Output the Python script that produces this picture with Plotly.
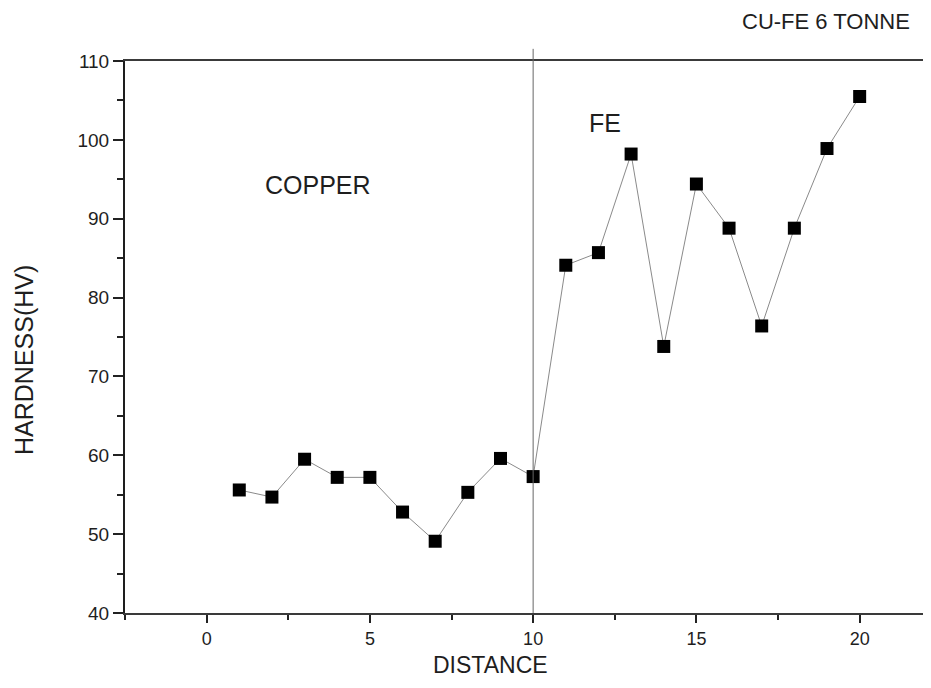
import plotly.graph_objects as go

distance = list(range(1, 21))
hardness = [55.6, 54.7, 59.5, 57.2, 57.2, 52.8, 49.1, 55.3, 59.6, 57.3,
            84.1, 85.7, 98.2, 73.8, 94.4, 88.8, 76.4, 88.8, 98.9, 105.5]

boundary_x = 10
labels = ["COPPER", "FE"]
label_x = [3.4, 12.2]
label_y = [94.3, 102.1]

title_text = "CU-FE 6 TONNE"
x_title = "DISTANCE"
y_title = "HARDNESS(HV)"

FONT = "Liberation Sans, Arial"
TXT = "#1e1e1e"

fig = go.Figure()
fig.add_trace(go.Scatter(
    x=distance, y=hardness, mode="lines+markers",
    line=dict(color="#8a8a8a", width=1),
    marker=dict(symbol="square", size=13, color="black"),
    cliponaxis=False, showlegend=False,
))

fig.add_shape(type="line", xref="x", yref="paper",
              x0=boundary_x, x1=boundary_x, y0=0, y1=1.022,
              line=dict(color="#666666", width=1))

for t, x, y in zip(labels, label_x, label_y):
    fig.add_annotation(x=x, y=y, text=t, showarrow=False,
                       font=dict(family=FONT, size=25, color=TXT))

fig.add_annotation(xref="paper", yref="paper", x=0.878, y=1.072, text=title_text,
                   showarrow=False, xanchor="center", yanchor="middle",
                   font=dict(family=FONT, size=22, color=TXT))

# axis titles
fig.add_annotation(xref="paper", yref="paper", x=0.4586, y=-0.1205, text=x_title,
                   showarrow=False, xanchor="center", yanchor="bottom",
                   font=dict(family=FONT, size=23, color=TXT))
fig.add_annotation(xref="paper", yref="paper", x=-0.1266, y=0.4583, text=y_title,
                   showarrow=False, xanchor="center", yanchor="middle", textangle=-90,
                   font=dict(family=FONT, size=25, color=TXT))

fig.update_layout(
    width=915, height=672,
    margin=dict(l=117, r=0, t=53, b=67),
    paper_bgcolor="white", plot_bgcolor="white",
    xaxis=dict(range=[-2.5, 21.94], tick0=0, dtick=5, ticks="outside", ticklen=8,
               tickwidth=1.5, tickcolor="#222", showgrid=False, zeroline=False,
               showline=True, linecolor="#3a3a3a", linewidth=2, mirror=True,
               tickfont=dict(family=FONT, size=18, color=TXT),
               minor=dict(dtick=2.5, tick0=0, ticks="outside", ticklen=5, tickwidth=1.5,
                          tickcolor="#222", showgrid=False)),
    yaxis=dict(range=[40, 110], tick0=40, dtick=10, ticks="outside", ticklen=10,
               tickwidth=1.5, tickcolor="#222", showgrid=False, zeroline=False,
               showline=True, linecolor="#1e1e1e", linewidth=2,
               tickfont=dict(family=FONT, size=19, color=TXT),
               minor=dict(dtick=5, tick0=40, ticks="outside", ticklen=6, tickwidth=1.5,
                          tickcolor="#222", showgrid=False)),
)

fig.write_html("out.html")
